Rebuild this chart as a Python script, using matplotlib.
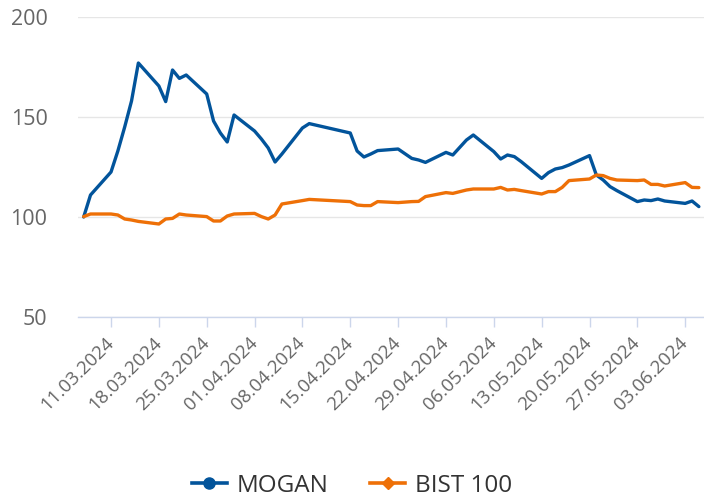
import datetime as dt
import matplotlib
matplotlib.use("Agg")
import matplotlib.pyplot as plt
from matplotlib.lines import Line2D

plt.rcParams['font.family'] = ['Open Sans', 'DejaVu Sans']

# trading days (holidays skipped)
dates = ["07.03", "08.03", "11.03", "12.03", "13.03", "14.03", "15.03",
         "18.03", "19.03", "20.03", "21.03", "22.03",
         "25.03", "26.03", "27.03", "28.03", "29.03",
         "01.04", "02.04", "03.04", "04.04", "05.04",
         "08.04", "09.04",
         "15.04", "16.04", "17.04", "18.04", "19.04",
         "22.04", "24.04", "25.04", "26.04",
         "29.04", "30.04", "02.05", "03.05",
         "06.05", "07.05", "08.05", "09.05", "10.05",
         "13.05", "14.05", "15.05", "16.05", "17.05",
         "20.05", "21.05", "22.05", "23.05", "24.05",
         "27.05", "28.05", "29.05", "30.05", "31.05",
         "03.06", "04.06", "05.06"]

mogan = [100, 111, 122.5, 133, 145, 158, 177,
         165.5, 157.7, 173.5, 169.3, 171,
         161.5, 148, 142, 137.5, 151,
         143, 139, 134.5, 127.5, 131.5,
         144.5, 146.7,
         142, 133, 130, 131.5, 133.2,
         134, 129.3, 128.5, 127.3,
         132.3, 131, 138.5, 141,
         132.7, 129, 131, 130.2, 127.7,
         119.3, 122.2, 124, 124.7, 126,
         130.7, 121, 118.5, 115.2, 113.2,
         107.7, 108.5, 108.2, 109, 108,
         106.8, 108, 105.2]

bist = [100.2, 101.5, 101.5, 101, 99, 98.5, 97.8,
        96.5, 99, 99.3, 101.5, 101,
        100.2, 98, 98, 100.5, 101.5,
        101.8, 100.2, 99, 101, 106.5,
        108.2, 108.8,
        107.7, 106, 105.7, 105.7, 107.7,
        107.2, 107.7, 107.8, 110.2,
        112.2, 111.8, 113.5, 114,
        114, 114.8, 113.5, 113.8, 113.2,
        111.5, 112.7, 112.7, 114.8, 118.2,
        119, 121, 120.7, 119.3, 118.5,
        118.2, 118.5, 116.3, 116.3, 115.5,
        117.2, 114.8, 114.7]

tick_labels = ["11.03.2024", "18.03.2024", "25.03.2024", "01.04.2024", "08.04.2024",
               "15.04.2024", "22.04.2024", "29.04.2024", "06.05.2024", "13.05.2024",
               "20.05.2024", "27.05.2024", "03.06.2024"]

x = [dt.datetime.strptime(d + ".2024", "%d.%m.%Y") for d in dates]
ticks = [dt.datetime.strptime(t, "%d.%m.%Y") for t in tick_labels]

blue = '#02549b'
orange = '#ee7007'

fig = plt.figure(figsize=(7.04, 4.99), dpi=100)
ax = fig.add_axes([78 / 704, 1 - 317 / 499, 626 / 704, 300 / 499])

ax.plot(x, mogan, color=blue, lw=2.4, solid_joinstyle='round', solid_capstyle='round', zorder=3)
ax.plot(x, bist, color=orange, lw=2.4, solid_joinstyle='round', solid_capstyle='round', zorder=3)

ax.set_ylim(50, 200)
ax.set_yticks([50, 100, 150, 200])
ax.set_xlim(x[0] - dt.timedelta(days=0.83), x[-1] + dt.timedelta(days=0.75))
ax.set_xticks(ticks)
ax.set_xticklabels(tick_labels, rotation=45, ha='right', va='center', rotation_mode='anchor')

ax.grid(axis='y', color='#e6e6e6', lw=1)
ax.set_axisbelow(True)
for s in ['top', 'right', 'left']:
    ax.spines[s].set_visible(False)
ax.spines['bottom'].set_color('#ccd6eb')
ax.spines['bottom'].set_linewidth(1)
ax.spines['bottom'].set_zorder(2)

ax.tick_params(axis='y', length=0, pad=22, labelsize=15.5, labelcolor='#666666')
ax.tick_params(axis='x', length=7.5, width=1, color='#ccd6eb', pad=9,
               labelsize=13.5, labelcolor='#666666')

handles = [Line2D([], [], color=blue, lw=2.6, marker='o', markersize=8),
           Line2D([], [], color=orange, lw=2.6, marker='D', markersize=6.5)]
fig.legend(handles, ["MOGAN", "BIST 100"], loc='center', bbox_to_anchor=(0.5, 1 - 486 / 499),
           ncol=2, frameon=False, fontsize=17.5, labelcolor='#333333',
           handlelength=1.45, handletextpad=0.4, columnspacing=1.7)

fig.savefig("out.png", dpi=100)
